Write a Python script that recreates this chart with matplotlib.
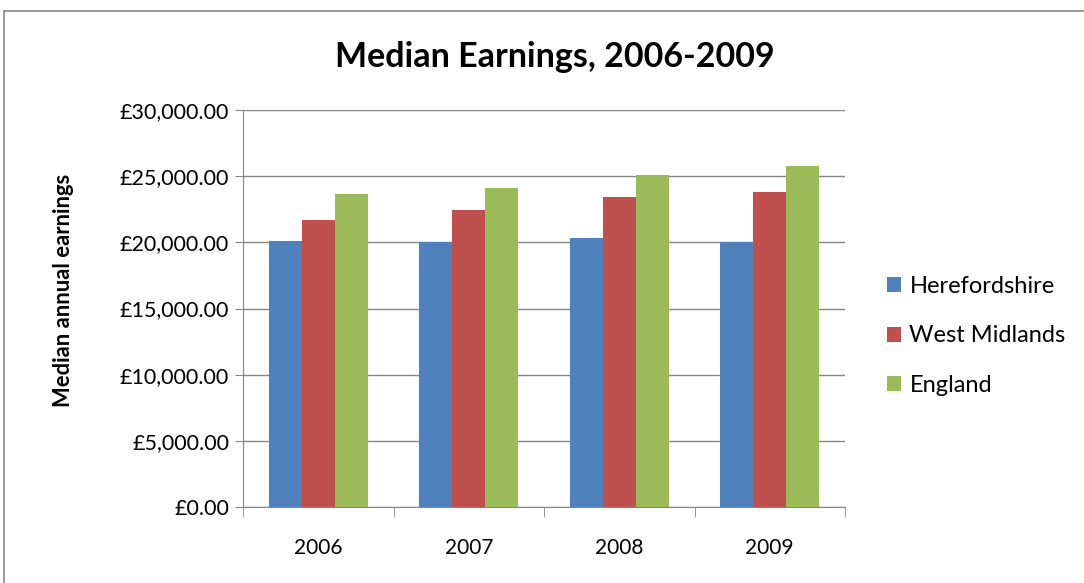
import matplotlib
matplotlib.use("Agg")
import matplotlib.pyplot as plt
import numpy as np
from matplotlib.ticker import FuncFormatter
from matplotlib.patches import Rectangle

years = ["2006", "2007", "2008", "2009"]
herefordshire = [20130, 20050, 20330, 20030]
west_midlands = [21660, 22470, 23400, 23810]
england = [23630, 24100, 25100, 25780]
series_names = ["Herefordshire", "West Midlands", "England"]
colors = ["#4F81BD", "#C0504D", "#9BBB59"]

plt.rcParams['font.family'] = ['Lato', 'DejaVu Sans']

fig = plt.figure(figsize=(10.84, 5.83), dpi=100)
ax = fig.add_axes([243/1084, 1-507/583, (845-243)/1084, (507-110)/583])

x = np.arange(len(years))
w = 0.22
for i, (vals, name, c) in enumerate(zip([herefordshire, west_midlands, england], series_names, colors)):
    ax.bar(x + (i-1)*w, vals, width=w, color=c, label=name, zorder=3)

ax.set_xlim(-0.5, 3.5)
ax.set_ylim(0, 30000)
ax.set_yticks(np.arange(0, 30001, 5000))
ax.yaxis.set_major_formatter(FuncFormatter(lambda v, p: "£{:,.2f}".format(v)))
ax.set_xticks(x)
ax.set_xticklabels(years)
ax.set_xticks(np.arange(-0.5, 3.6, 1), minor=True)
ax.tick_params(axis='x', which='major', length=0, pad=22, labelsize=15)
ax.tick_params(axis='x', which='minor', length=7, color='#868686')
ax.tick_params(axis='y', length=6, color='#868686', labelsize=15.5, pad=4)
ax.grid(axis='y', color='#868686', linewidth=1, zorder=0)
for s in ['top', 'right']:
    ax.spines[s].set_visible(False)
for s in ['left', 'bottom']:
    ax.spines[s].set_color('#868686')

fig.text(63/1084, 1-290/583, "Median annual earnings", fontsize=15.8, fontweight='bold',
         rotation=90, ha='center', va='center')
fig.text(555/1084, 1-57/583, "Median Earnings, 2006-2009", fontsize=24.5, fontweight='bold', ha='center', va='center')

ax.legend(loc='center left', bbox_to_anchor=(887/1084, 1-336/583), bbox_transform=fig.transFigure,
          frameon=False, fontsize=17, handlelength=0.6, handleheight=0.6, labelspacing=1.2,
          handletextpad=0.35, borderpad=0, borderaxespad=0)

fig.patches.append(Rectangle((4/1084, -0.1), 1.2, 1-11/583+0.1, transform=fig.transFigure,
                             fill=False, edgecolor='#868686', linewidth=1.2))

fig.savefig("out.png", dpi=100)
